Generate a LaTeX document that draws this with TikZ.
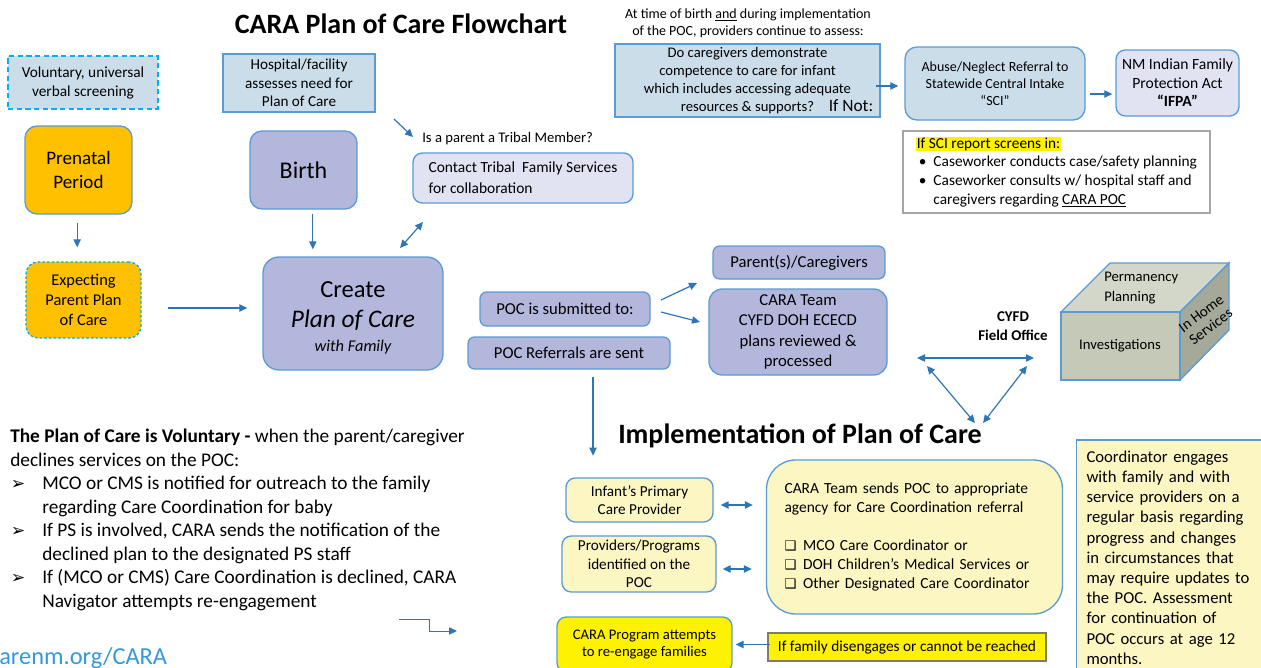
\documentclass[tikz,border=0pt]{standalone}
\usepackage{fontspec}
\setmainfont{Carlito}
\newfontfamily\symfont{DejaVu Sans}
\usepackage{tikz}
\usetikzlibrary{arrows.meta,positioning}

\definecolor{edgeblue}{HTML}{5B9BD5}
\definecolor{arrowblue}{HTML}{2E75B6}
\definecolor{dashcyan}{HTML}{00B0F0}
\definecolor{paleblue}{HTML}{CCDDEA}
\definecolor{lavender}{HTML}{B4B7DC}
\definecolor{palelav}{HTML}{E1E3F2}
\definecolor{amber}{HTML}{FFC000}
\definecolor{paleyellow}{HTML}{FBF6C2}
\definecolor{cubefront}{HTML}{C4CAB7}
\definecolor{cubetop}{HTML}{D3D7CA}
\definecolor{cubeside}{HTML}{A5A999}
\definecolor{screengray}{HTML}{A6A6A6}
\definecolor{olivegray}{HTML}{7F7F5F}
\definecolor{urlblue}{HTML}{3399DD}

\newcommand{\listmark}{\makebox[24pt][l]{\hspace{0.5pt}{\symfont\fontsize{13}{14}\selectfont ➢}}}
\newcommand{\listindent}{\hspace*{24pt}}
\newcommand{\boxmark}{\makebox[14pt][l]{{\symfont\fontsize{10}{12}\selectfont ❑}}}
\newcommand{\dotmark}{\makebox[13pt][l]{\hspace{2pt}•}}

\begin{document}
\begin{tikzpicture}[
  x=0.75pt, y=-0.75pt,
  boxbase/.style={draw=edgeblue, line width=1pt, align=center, inner sep=2pt},
  bluebox/.style={boxbase, fill=paleblue},
  lavbox/.style={boxbase, fill=lavender, rounded corners=5pt},
  palebox/.style={boxbase, fill=palelav, rounded corners=7pt},
  orangebox/.style={boxbase, fill=amber, rounded corners=9pt},
  yelbox/.style={boxbase, fill=paleyellow, rounded corners=7pt},
  dashbox/.style={draw=dashcyan, line width=1.5pt, dash pattern=on 4pt off 2.5pt},
  heading/.style={font=\bfseries\fontsize{21}{25}\selectfont, inner sep=0pt},
  textonly/.style={inner sep=0pt, align=center},
  arr/.style={-{Triangle[length=6pt,width=5.5pt]}, line width=0.9pt, draw=arrowblue},
  darr/.style={{Triangle[length=6pt,width=5.5pt]}-{Triangle[length=6pt,width=5.5pt]}, line width=0.9pt, draw=arrowblue}
]
\useasboundingbox (0,0) rectangle (1261,668);

% top part
\node[heading] (title) at (401,24) {CARA Plan of Care Flowchart};
\node[bluebox, dashbox, minimum width=112.5pt, minimum height=39.75pt, font=\fontsize{11.5}{14.25}\selectfont] (vscreen) at (83,82.5) {Voluntary, universal\\verbal screening};
\node[orangebox, minimum width=80.25pt, minimum height=66pt, font=\fontsize{14.3}{18}\selectfont] (prenatal) at (78.5,170) {Prenatal\\Period};
\node[orangebox, draw=dashcyan, dash pattern=on 2pt off 1.5pt, minimum width=86.25pt, minimum height=57pt, font=\fontsize{12.3}{15}\selectfont] (expecting) at (83.5,300) {Expecting\\Parent Plan\\of Care};
\node[bluebox, minimum width=114pt, minimum height=43.5pt, font=\fontsize{11.4}{13.9}\selectfont] (hospital) at (299,83) {Hospital/facility\\assesses need for\\Plan of Care};
\node[lavbox, rounded corners=9pt, minimum width=80.25pt, minimum height=58.5pt, font=\fontsize{18}{22}\selectfont] (birth) at (303.5,170) {Birth};
\node[textonly, anchor=west, font=\fontsize{11}{13}\selectfont] (tribalq) at (422,139) {Is a parent a Tribal Member?};
\node[palebox, align=left, minimum width=165pt, minimum height=37.5pt, font=\fontsize{11.6}{15.75}\selectfont] (tribal) at (523,178) {Contact Tribal\ \ Family Services\\for collaboration};
\node[lavbox, rounded corners=12pt, minimum width=135pt, minimum height=84.75pt, font=\fontsize{18.4}{22.5}\selectfont] (create) at (353,313.5) {\rule{0pt}{19pt}Create\\{\itshape\fontsize{19}{22.5}\selectfont Plan of Care}\\[-4.5pt]{\itshape\fontsize{12.3}{15}\selectfont with Family}};
\node[lavbox, minimum width=127.5pt, minimum height=25.5pt, font=\fontsize{12.5}{15}\selectfont] (submitted) at (565,309) {POC is submitted to:};
\node[lavbox, minimum width=151.5pt, minimum height=24pt, font=\fontsize{12.5}{15}\selectfont] (referrals) at (569,353) {POC Referrals are sent};
\node[lavbox, minimum width=129pt, minimum height=24.75pt, font=\fontsize{12.5}{15}\selectfont] (parents) at (799,262.5) {Parent(s)/Caregivers};
\node[lavbox, rounded corners=10pt, minimum width=133.5pt, minimum height=64.5pt, font=\fontsize{12.5}{15.2}\selectfont] (carateam) at (798,332) {CARA Team\\CYFD DOH ECECD\\plans reviewed \&\\processed};

% assessment row
\node[textonly, font=\fontsize{10.5}{12.8}\selectfont] (assess) at (748,23.5) {At time of birth \underline{and} during implementation\\of the POC, providers continue to assess:};
\node[bluebox, minimum width=198.75pt, minimum height=54.75pt, font=\fontsize{11}{13.7}\selectfont] (question) at (747.5,80.5) {Do caregivers demonstrate\\competence to care for infant\\which includes accessing adequate\\resources \& supports?\rlap{\hspace{11pt}\fontsize{13}{13.7}\selectfont If Not:}};
\node[bluebox, rounded corners=9pt, minimum width=135pt, minimum height=54.75pt, font=\fontsize{10.5}{12.75}\selectfont] (sci) at (995,83.5) {Abuse/Neglect Referral to\\Statewide Central Intake\\“SCI”};
\node[palebox, minimum width=92.25pt, minimum height=49.5pt, font=\fontsize{11.7}{13.9}\selectfont] (ifpa) at (1177.5,83) {NM Indian Family\\Protection Act\\\textbf{“IFPA”}};
\node[boxbase, draw=screengray, fill=white, align=left, minimum width=230.25pt, minimum height=61.5pt, font=\fontsize{11.5}{14}\selectfont] (screens) at (1056.5,172) {{\setlength{\fboxsep}{0.5pt}\colorbox{yellow}{If SCI report screens in:}}\\\dotmark Caseworker conducts case/safety planning\\\dotmark Caseworker consults w/ hospital staff and\\\hspace*{13pt}caregivers regarding \underline{CARA POC}};

% field office and cube
\node[textonly, font=\bfseries\fontsize{11.2}{14.25}\selectfont] (fieldoffice) at (1013,326) {CYFD\\Field Office};
\filldraw[draw=edgeblue, line width=1pt, fill=cubetop] (1061,312) -- (1110,263) -- (1229,263) -- (1180,312) -- cycle;
\filldraw[draw=edgeblue, line width=1pt, fill=cubeside] (1180,312) -- (1229,263) -- (1229,330) -- (1180,380) -- cycle;
\filldraw[draw=edgeblue, line width=1pt, fill=cubefront] (1061,312) rectangle (1180,380);
\node[textonly, font=\fontsize{11}{13}\selectfont] (investigations) at (1120,346) {Investigations};
\node[textonly, anchor=west, align=left, font=\fontsize{11}{15}\selectfont] (permanency) at (1104,288) {Permanency\\Planning};
\node[textonly, rotate=37, font=\fontsize{11.3}{12}\selectfont] (inhome) at (1206,320) {In Home\\Services};

% implementation
\node[heading] (impl) at (800,436) {Implementation of Plan of Care};
\node[yelbox, minimum width=110.25pt, minimum height=33pt, font=\fontsize{11.4}{13.5}\selectfont] (infant) at (639.5,500) {Infant’s Primary\\Care Provider};
\node[yelbox, minimum width=115.5pt, minimum height=42pt, font=\fontsize{11.4}{13.9}\selectfont] (providers) at (639,564) {Providers/Programs\\identified on the\\POC};
\node[yelbox, rounded corners=22pt, align=left, text width=195pt, inner xsep=13.5pt, minimum height=115.5pt, font=\fontsize{11.6}{14.25}\selectfont] (sends) at (914.5,537) {CARA Team sends POC to appropriate\\agency for Care Coordination referral\\[14.25pt]\boxmark MCO Care Coordinator or\\\boxmark DOH Children’s Medical Services or\\\boxmark Other Designated Care Coordinator};
\node[yelbox, fill=yellow, minimum width=131.25pt, minimum height=41.25pt, font=\fontsize{11}{12.75}\selectfont] (reengage) at (644.5,644.5) {CARA Program attempts\\to re-engage families};
\node[boxbase, draw=olivegray, fill=yellow, minimum width=208.5pt, minimum height=21pt, font=\fontsize{11.5}{14}\selectfont] (disengage) at (907,647) {If family disengages or cannot be reached};
\node[boxbase, fill=paleyellow, align=left, text width=127.5pt, inner xsep=7.5pt, minimum height=176.25pt, font=\fontsize{12.5}{15.15}\selectfont] (coordinator) at (1171.5,557.5) {Coordinator engages\\with family and with\\service providers on a\\regular basis regarding\\progress and changes\\in circumstances that\\may require updates to\\the POC. Assessment\\for continuation of\\POC occurs at age 12\\months.};

% voluntary note
\node[anchor=north west, inner sep=0pt, align=left, font=\fontsize{14.5}{17.6}\selectfont] (voluntary) at (10,429) {%
\textbf{The Plan of Care is Voluntary -} when the parent/caregiver\\
declines services on the POC:\\
\listmark MCO or CMS is notified for outreach to the family\\
\listindent regarding Care Coordination for baby\\
\listmark If PS is involved, CARA sends the notification of the\\
\listindent declined plan to the designated PS staff\\
\listmark If (MCO or CMS) Care Coordination is declined, CARA\\
\listindent Navigator attempts re-engagement};
\node[anchor=base west, inner sep=0pt, text=urlblue, font=\fontsize{18.3}{22}\selectfont] (url) at (-1,664) {arenm.org/CARA};

% free arrow ends
\coordinate (hospout) at (394,119);
\coordinate (tribalin) at (413,137);
\coordinate (createup) at (400,248);
\coordinate (tribaldown) at (423,222);
\coordinate (subup) at (661,300);
\coordinate (parentsin) at (697,283);
\coordinate (subdown) at (661,312);
\coordinate (teamin) at (700,322);
\coordinate (fieldL) at (917,358);
\coordinate (fieldR) at (1034,358);
\coordinate (leftup) at (927,366);
\coordinate (leftdown) at (975,423);
\coordinate (rightup) at (1027,366);
\coordinate (rightdown) at (983,423);
\coordinate (elbow) at (399,619);

% arrows
\draw[arr, shorten <=6pt, shorten >=10.5pt] ([xshift=-1pt]prenatal.south) -- ([xshift=-1pt]prenatal.south |- expecting.north);
\draw[arr, shorten <=19.5pt, shorten >=11.25pt] ([yshift=-6pt]expecting.east) -- ([yshift=-6pt]expecting.east -| create.west);
\draw[arr, shorten <=3pt, shorten >=5.25pt] ([xshift=7pt]birth.south) -- ([xshift=7pt]birth.south |- create.north);
\draw[arr] (hospout) -- (tribalin);
\draw[darr] (createup) -- (tribaldown);
\draw[arr] (subup) -- (parentsin);
\draw[arr] (subdown) -- (teamin);
\draw[arr] ([xshift=18pt, yshift=-5.25pt]referrals.south) -- ++(0,79);
\draw[arr, shorten <=-3.75pt, shorten >=4.5pt] ([yshift=-4.1pt]question.east) -- ([yshift=-4.1pt]question.east -| sci.west);
\draw[arr, shorten <=3pt, shorten >=2.25pt] ([yshift=-7.9pt]sci.east) -- ([yshift=-7.9pt]sci.east -| ifpa.west);
\draw[darr] (fieldL) -- (fieldR);
\draw[darr] (leftup) -- (leftdown);
\draw[darr] (rightup) -- (rightdown);
\draw[darr, shorten <=5.25pt, shorten >=9.75pt] ([yshift=-3.75pt]infant.east) -- ([yshift=-3.75pt]infant.east -| sends.west);
\draw[darr, shorten <=4.5pt, shorten >=10.5pt] ([yshift=-3.75pt]providers.east) -- ([yshift=-3.75pt]providers.east -| sends.west);
\draw[arr, shorten <=-2.25pt, shorten >=2.25pt] (disengage.west |- reengage.east) -- (reengage.east);
\draw[arr, line width=0.7pt] (elbow) -- ++(30,0) -- ++(0,12) -- ++(28,0);
\end{tikzpicture}
\end{document}
